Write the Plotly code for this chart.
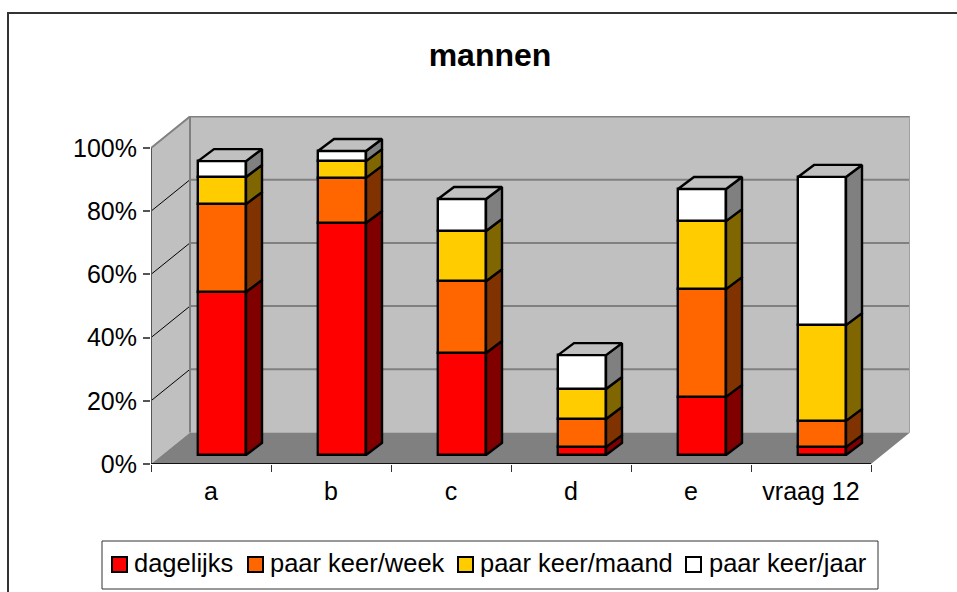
import plotly.graph_objects as go

categories = ["a", "b", "c", "d", "e", "vraag 12"]
dagelijks = [51.6, 73.4, 32.3, 2.5, 18.4, 2.5]
per_week = [27.8, 14.3, 22.7, 8.9, 34.1, 8.3]
per_maand = [8.6, 5.3, 15.9, 9.5, 21.5, 30.3]
per_jaar = [5.0, 3.2, 10.1, 10.7, 10.2, 46.9]
series_names = ["dagelijks", "paar keer/week", "paar keer/maand", "paar keer/jaar"]
y_ticks = [0, 20, 40, 60, 80, 100]

series = [dagelijks, per_week, per_maand, per_jaar]
front_colors = ["#FF0000", "#FF6600", "#FFCC00", "#FFFFFF"]
side_colors = ["#800000", "#803300", "#806600", "#808080"]

W, H = 957, 592
L, R, T, B = 151, 910, 116, 464
CAT_PX = 120.0
PCT_PX = 3.16
EDGE = 2.4
xr = (R - L) / CAT_PX
yr = (B - T) / PCT_PX
WALL_DX, WALL_DY = 39 / CAT_PX, 31.5 / PCT_PX
BAR_W = 48 / CAT_PX
BAR_SHIFT = 11 / CAT_PX
BAR_BASE = 9 / PCT_PX
BAR_DX, BAR_DY = 16 / CAT_PX, 12 / PCT_PX
n = len(categories)
centers = [i + 0.5 + BAR_SHIFT for i in range(n)]

fig = go.Figure()

# stacked front faces
cum = [BAR_BASE] * n
bases = []
for vals, name, col in zip(series, series_names, front_colors):
    bases.append(list(cum))
    fig.add_trace(go.Bar(x=centers, y=vals, base=list(cum), width=BAR_W, name=name,
                         marker=dict(color=col, line=dict(color="black", width=EDGE))))
    cum = [c + v for c, v in zip(cum, vals)]

# depth faces
for vals, base, col in zip(series, bases, side_colors):
    xs, ys = [], []
    for c, v, b in zip(centers, vals, base):
        x1 = c + BAR_W / 2
        xs += [x1, x1 + BAR_DX, x1 + BAR_DX, x1, x1, None]
        ys += [b, b + BAR_DY, b + v + BAR_DY, b + v, b, None]
    fig.add_trace(go.Scatter(x=xs, y=ys, mode="lines", fill="toself", fillcolor=col,
                             line=dict(color="black", width=EDGE), showlegend=False, hoverinfo="skip"))
xs, ys = [], []
for c, t in zip(centers, cum):
    x0, x1 = c - BAR_W / 2, c + BAR_W / 2
    xs += [x0, x1, x1 + BAR_DX, x0 + BAR_DX, x0, None]
    ys += [t, t, t + BAR_DY, t + BAR_DY, t, None]
fig.add_trace(go.Scatter(x=xs, y=ys, mode="lines", fill="toself", fillcolor="#C0C0C0",
                         line=dict(color="black", width=EDGE), showlegend=False, hoverinfo="skip"))


def poly(pts, fill, line=None, width=0):
    path = "M" + "L".join(f"{x},{y}" for x, y in pts) + "Z"
    return dict(type="path", path=path, xref="x", yref="y", layer="below", fillcolor=fill,
                line=dict(color=line or fill, width=width))


def seg(x0, y0, x1, y1, color, width, layer="below"):
    return dict(type="line", xref="x", yref="y", x0=x0, y0=y0, x1=x1, y1=y1, layer=layer,
                line=dict(color=color, width=width))


top = y_ticks[-1]
shapes = [
    poly([(WALL_DX, WALL_DY), (xr, WALL_DY), (xr, top + WALL_DY), (WALL_DX, top + WALL_DY)], "#C0C0C0"),
    poly([(0, 0), (WALL_DX, WALL_DY), (WALL_DX, top + WALL_DY), (0, top)], "#C0C0C0"),
    poly([(0, 0), (WALL_DX, WALL_DY), (xr, WALL_DY), (n, 0)], "#808080"),
]
for t in y_ticks[1:]:
    shapes.append(seg(WALL_DX, t + WALL_DY, xr, t + WALL_DY, "#808080", 2))
    if t < top:
        shapes.append(seg(0, t, WALL_DX, t + WALL_DY, "#000000", 1))
shapes += [
    seg(0, top, WALL_DX, top + WALL_DY, "#808080", 2),
    seg(WALL_DX, WALL_DY, WALL_DX, top + WALL_DY, "#808080", 2),
    seg(xr, WALL_DY, xr, top + WALL_DY, "#A0A0A0", 2),
    seg(0, 0, 0, top, "#555555", 2),
    seg(0, 0, n, 0, "#111111", 2),
]
pw, ph = R - L, B - T
fx = lambda p: (p - L) / pw
fy = lambda p: (B - p) / ph
# outer chart frame, cut by the picture edge on the right and at the bottom
shapes.append(dict(type="path", xref="paper", yref="paper", layer="below",
                   path=f"M{fx(8)},{fy(600)}L{fx(8)},{fy(13)}L{fx(965)},{fy(13)}",
                   line=dict(color="#333333", width=2)))
# legend box with tightly set keys, as in the spreadsheet original
shapes.append(dict(type="rect", xref="paper", yref="paper", layer="below",
                   x0=fx(102), x1=fx(878), y0=fy(589), y1=fy(541), fillcolor="white",
                   line=dict(color="#333333", width=1)))
legend_key_x = [112, 248, 458, 686]
legend_text_x = [134, 270, 480, 709]
annotations = []
for name, col, kx, tx in zip(series_names, front_colors, legend_key_x, legend_text_x):
    shapes.append(dict(type="rect", xref="paper", yref="paper", layer="below",
                       x0=fx(kx), x1=fx(kx + 15), y0=fy(572), y1=fy(557), fillcolor=col,
                       line=dict(color="black", width=2)))
    annotations.append(dict(xref="paper", yref="paper", x=fx(tx), y=fy(563), text=name,
                            showarrow=False, xanchor="left", yanchor="middle", xshift=-1,
                            borderpad=0, font=dict(size=25.5)))

fig.update_layout(
    width=W, height=H, autosize=False,
    margin=dict(l=L, r=W - R, t=T, b=H - B, pad=0, autoexpand=False),
    paper_bgcolor="white", plot_bgcolor="white",
    barmode="overlay", bargap=0,
    font=dict(family="Liberation Sans, Arial, sans-serif", color="black", size=24),
    title=dict(text="<b>mannen</b>", x=490 / W, xanchor="center", xref="container", y=1 - 55 / H,
               yanchor="middle", yref="container", font=dict(size=32)),
    xaxis=dict(range=[0, xr], tickmode="array", tickvals=[i + 0.5 for i in range(n)],
               ticktext=categories, ticks="", showgrid=False, zeroline=False, showline=False,
               tickfont=dict(size=25), ticklabelstandoff=10,
               minor=dict(tickmode="array", tickvals=list(range(n + 1)), ticks="outside",
                          ticklen=7, tickwidth=1, tickcolor="#333333", showgrid=False)),
    yaxis=dict(range=[0, yr], tickmode="array", tickvals=y_ticks,
               ticktext=[f"{t}%" for t in y_ticks], ticks="outside", ticklen=7, tickwidth=2,
               tickcolor="#555555", showgrid=False, zeroline=False, showline=False,
               tickfont=dict(size=25), ticklabelstandoff=1),
    shapes=shapes,
    annotations=annotations,
    showlegend=False,
)

fig.write_html("out.html", config={"displayModeBar": False},
               post_script="document.body.style.margin='0';document.documentElement.style.overflow='hidden';")
